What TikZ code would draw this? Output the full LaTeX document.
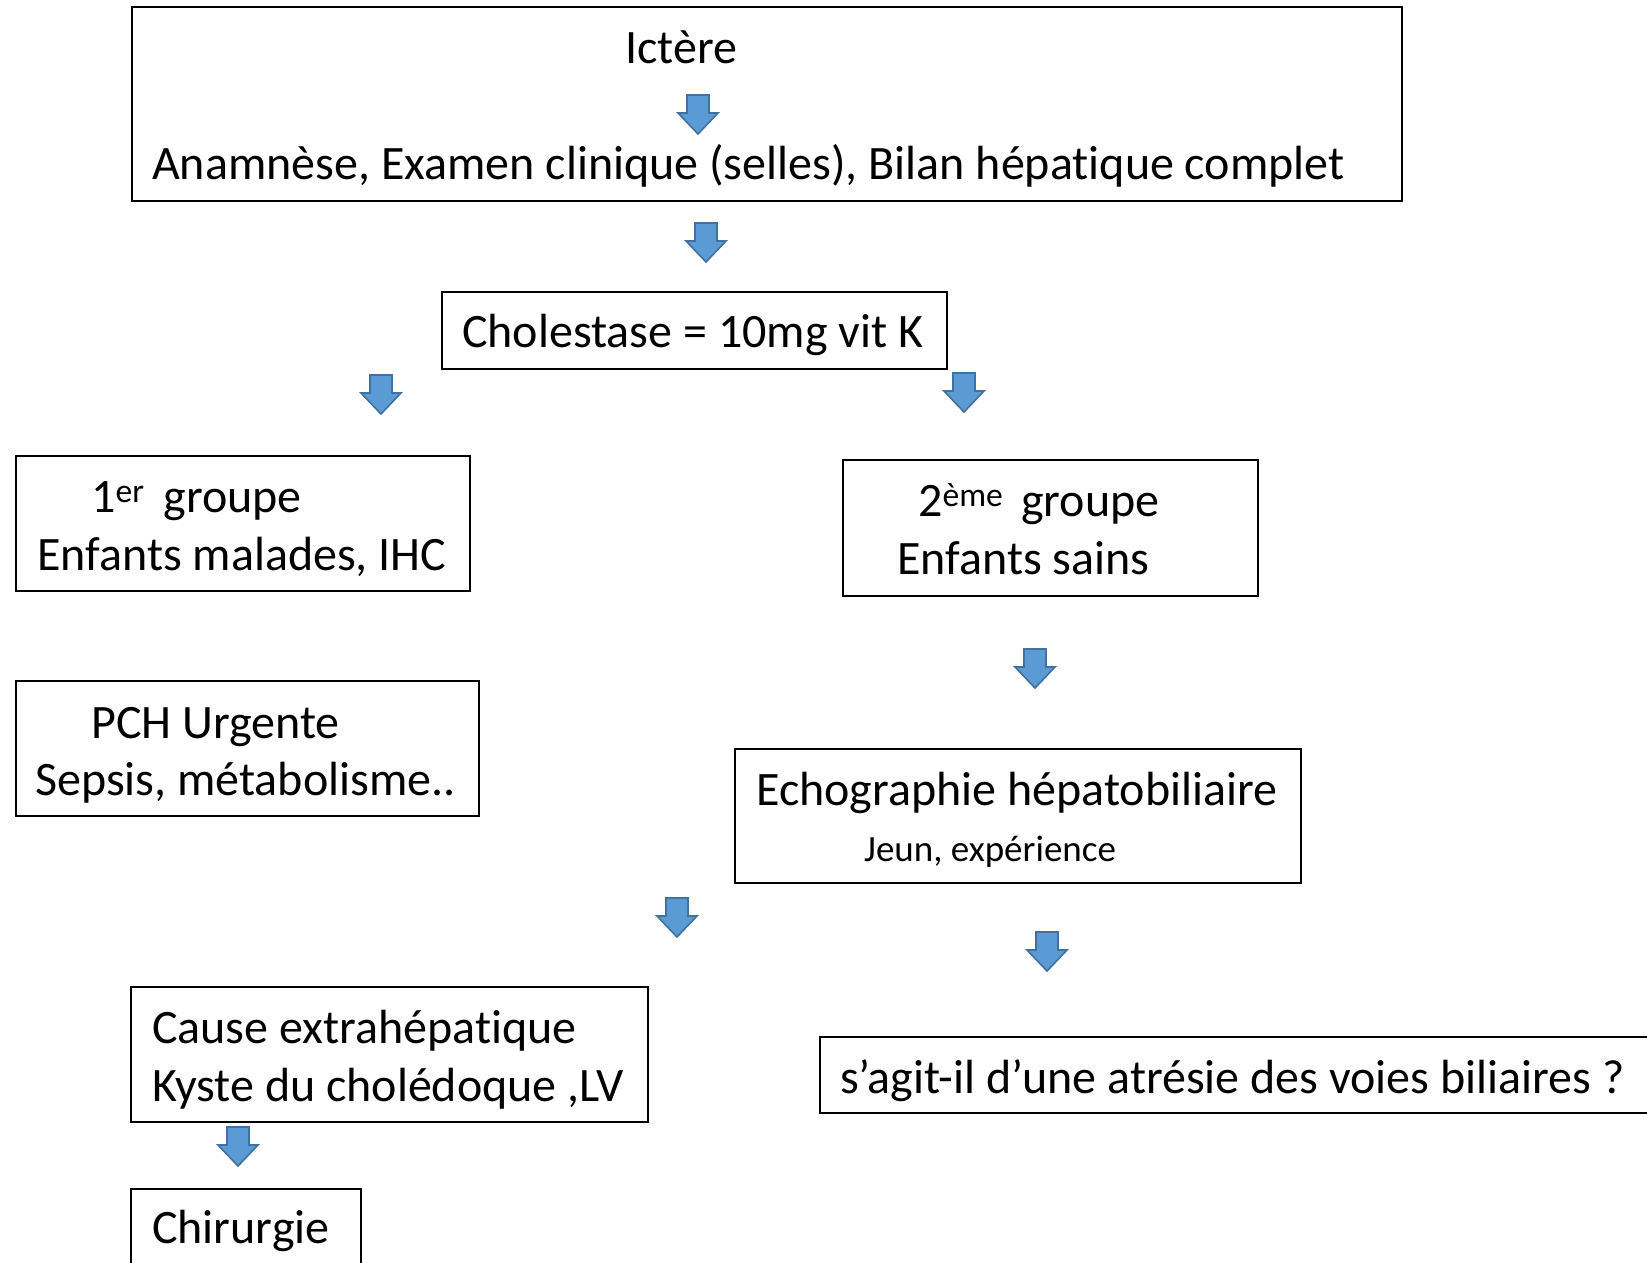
\documentclass[tikz,border=0pt]{standalone}
\usepackage{fontspec}
\setmainfont{Carlito}[RawFeature={-liga;-clig;-calt;-dlig}]
\definecolor{arrowfill}{HTML}{5B9BD5}
\definecolor{arrowline}{HTML}{41719C}
% keep the letters t and i apart
\newcommand{\tisep}{t\kern0pt i}
\begin{document}
\begin{tikzpicture}[x=1pt,y=-1pt,
  box/.style={draw=black, line width=2.2pt, rectangle, inner sep=0pt},
  txt/.style={inner sep=0pt, font=\fontsize{48}{56}\selectfont, anchor=base west},
  small/.style={inner sep=0pt, font=\fontsize{37}{44}\selectfont, anchor=base west},
  dnarrow/.pic={
    \filldraw[fill=arrowfill, draw=arrowline, line width=1.6pt, line join=miter]
      (-11,0) -- (11,0) -- (11,18) -- (20,18) -- (0,39) -- (-20,18) -- (-11,18) -- cycle;
    \coordinate (-tip) at (0,39);
  }]
\useasboundingbox (0,0) rectangle (1647,1262);

% boxes
\node[box, minimum width=1270pt, minimum height=194pt] (top) at (767,104) {};
\node[box, minimum width=505pt, minimum height=77pt] (chol) at (694.5,330.5) {};
\node[box, minimum width=454pt, minimum height=135pt] (g1) at (243,523.5) {};
\node[box, minimum width=415pt, minimum height=136pt] (g2) at (1050.5,528) {};
\node[box, minimum width=463pt, minimum height=135pt] (pch) at (247.5,748.5) {};
\node[box, minimum width=566pt, minimum height=134pt] (echo) at (1018,816) {};
\node[box, minimum width=517pt, minimum height=135pt] (cause) at (389.5,1054.5) {};
\node[box, minimum width=850pt, minimum height=76pt] (avb) at (1245,1075) {};
\node[box, minimum width=230pt, minimum height=101pt] (chir) at (246,1239.5) {};

% texts
\node[txt, anchor=base] (t-ict) at (681,63) {Ictère};
\node[txt] (t-anam) at (152,179) {Anamnèse, Examen clinique (selles), Bilan hépa\tisep que complet};
\node[txt] (t-chol) at (462,347) {Cholestase = 10mg vit K};
\node[txt] (t-g1a) at (91,512) {1\textsuperscript{er}\hspace{19pt}groupe};
\node[txt] (t-g1b) at (37,570) {Enfants malades, IHC};
\node[txt] (t-g2a) at (918,516) {2\textsuperscript{ème}\hspace{18pt}groupe};
\node[txt] (t-g2b) at (897,574) {Enfants sains};
\node[txt] (t-pcha) at (91,738) {PCH Urgente};
\node[txt] (t-pchb) at (35,795) {Sepsis, métabolisme..};
\node[txt] (t-echoa) at (756,805) {Echographie hépatobiliaire};
\node[small] (t-echob) at (864,861) {Jeun, expérience};
\node[txt] (t-causea) at (152,1043) {Cause extrahépa\tisep que};
\node[txt] (t-causeb) at (152,1101) {Kyste du cholédoque ,LV};
\node[txt] (t-avb) at (840,1093) {s’agit-il d’une atrésie des voies biliaires ?};
\node[txt] (t-chir) at (152,1243) {Chirurgie};

% block arrows
\path (698,95) pic (a1) {dnarrow};
\path (706,223) pic (a2) {dnarrow};
\path (381,375) pic (a3) {dnarrow};
\path (964,373) pic (a4) {dnarrow};
\path (1035,649) pic (a5) {dnarrow};
\path (677,898) pic (a6) {dnarrow};
\path (1047,932) pic (a7) {dnarrow};
\path (238,1127) pic (a8) {dnarrow};
\end{tikzpicture}
\end{document}
